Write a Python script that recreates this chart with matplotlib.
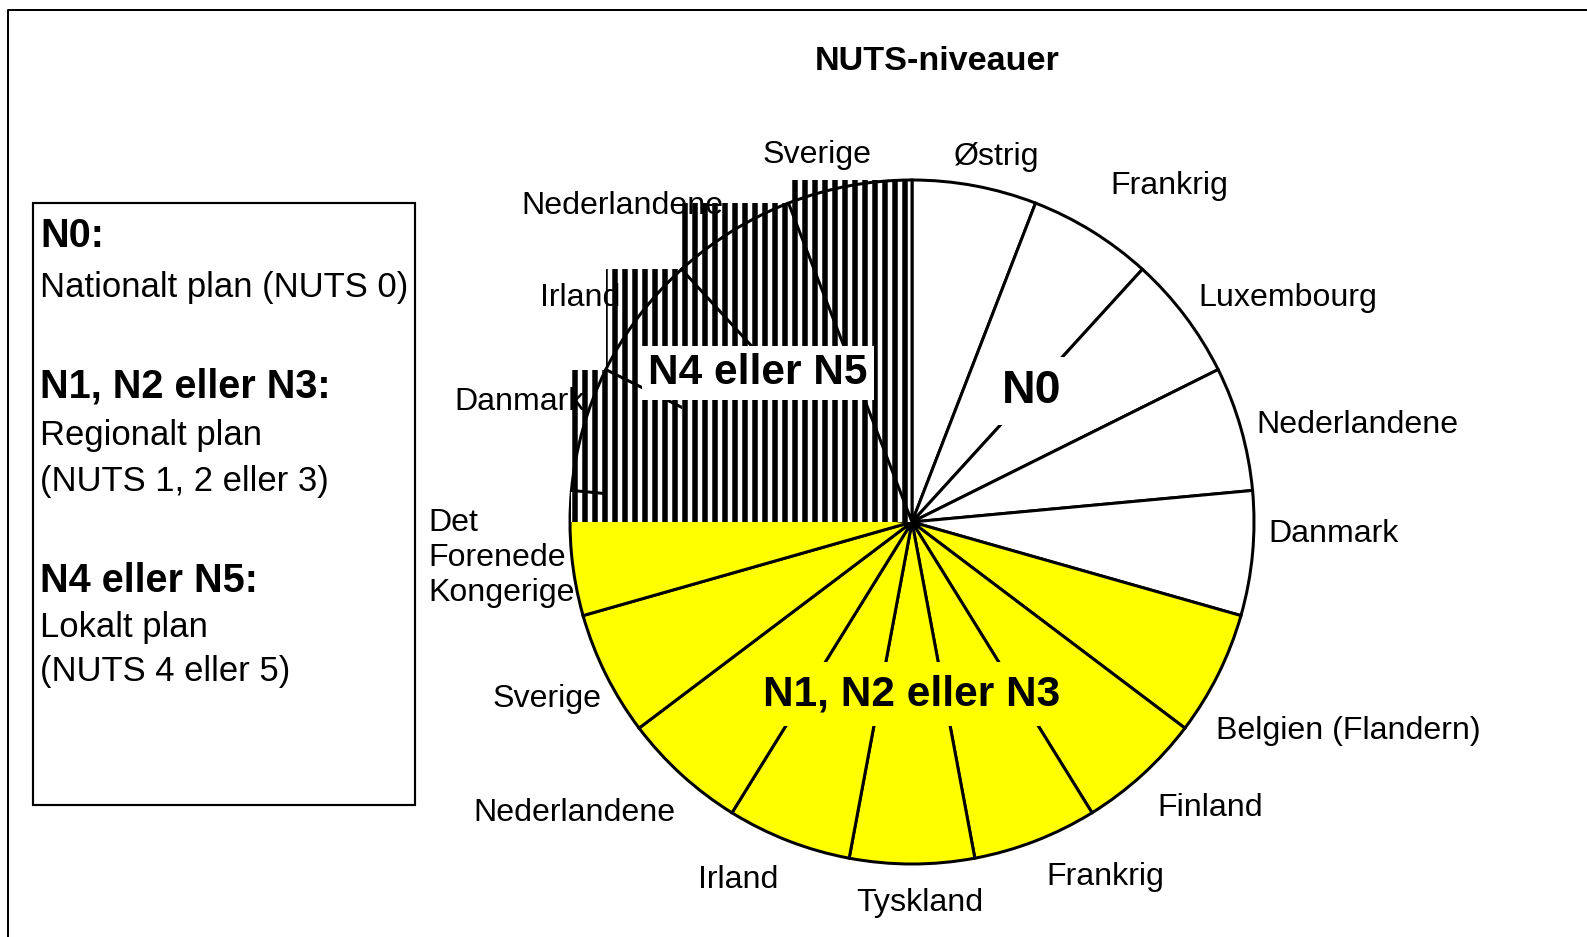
import numpy as np
import matplotlib.pyplot as plt
from matplotlib.patches import Rectangle

plt.rcParams['font.family'] = ['Liberation Sans', 'DejaVu Sans']
plt.rcParams['hatch.linewidth'] = 3.3

# slices, clockwise from 12 o'clock
countries = ["Østrig", "Frankrig", "Luxembourg", "Nederlandene", "Danmark",
             "Belgien (Flandern)", "Finland", "Frankrig", "Tyskland", "Irland",
             "Nederlandene", "Sverige", "Det\nForenede\nKongerige",
             "Danmark", "Irland", "Nederlandene", "Sverige"]
levels = ["N0"] * 5 + ["N1-3"] * 8 + ["N4-5"] * 4
shares = [1] * 17

level_colors = {"N0": "white", "N1-3": "#FFFF00", "N4-5": "white"}

# label placement (pixels from top-left) and alignment
label_xy = [(997, 157), (1110, 186), (1198, 298), (1256, 425), (1268, 534),
            (1216, 731), (1157, 808), (1105, 877), (920, 903), (738, 880),
            (675, 813), (602, 699), (428, 558),
            (585, 402), (620, 298), (723, 206), (817, 155)]
label_ha = ["center", "left", "left", "left", "left",
            "left", "left", "center", "center", "center",
            "right", "right", "left",
            "right", "right", "right", "center"]

W, H = 1587, 937
DPI = 120
fig = plt.figure(figsize=(W / DPI, H / DPI), dpi=DPI)
ax = fig.add_axes([0, 0, 1, 1])


def fy(y):
    return H - y


cx, cy, R = 912, fy(522), 342

wedges, _ = ax.pie(shares, colors=[level_colors[l] for l in levels],
                   startangle=90, counterclock=False, center=(cx, cy), radius=R,
                   wedgeprops=dict(edgecolor="black", linewidth=1.8), frame=True)
ax.set_xlim(0, W)
ax.set_ylim(0, H)
ax.set_aspect("auto")
ax.axis("off")

# striped slices are filled over their bounding box (as in the original export)
z = 2
for w, lev in zip(wedges, levels):
    if lev != "N4-5":
        continue
    ext = w.get_path().get_extents()
    ax.add_patch(Rectangle((ext.x0, ext.y0), ext.width, ext.height,
                           facecolor="white", edgecolor="black", hatch="||",
                           linewidth=0, zorder=z))
    w.set_facecolor("none")
    w.set_zorder(z + 1)
    z += 2

for name, (x, y), ha in zip(countries, label_xy, label_ha):
    ax.text(x, fy(y), name, ha=ha, va="center", fontsize=19.3, linespacing=1.2,
            zorder=20)

ax.text(1032, fy(391), "N0", ha="center", va="center", fontsize=28,
        fontweight="bold", zorder=30,
        bbox=dict(facecolor="white", edgecolor="none", pad=7))
ax.text(912, fy(694), "N1, N2 eller N3", ha="center", va="center", fontsize=25.4,
        fontweight="bold", zorder=30,
        bbox=dict(facecolor="#FFFF00", edgecolor="none", pad=7))
ax.text(758, fy(373), "N4 eller N5", ha="center", va="center", fontsize=25.4,
        fontweight="bold", zorder=30,
        bbox=dict(facecolor="white", edgecolor="none", pad=4))

ax.text(937, fy(62), "NUTS-niveauer", ha="center", va="center", fontsize=20.5,
        fontweight="bold")

# legend box
ax.add_patch(Rectangle((33, fy(805)), 382, 602, facecolor="none",
                       edgecolor="black", linewidth=1.3))
legend_lines = [("N0:", True, 236), ("Nationalt plan (NUTS 0)", False, 287),
                ("N1, N2 eller N3:", True, 387), ("Regionalt plan", False, 435),
                ("(NUTS 1, 2 eller 3)", False, 482),
                ("N4 eller N5:", True, 581), ("Lokalt plan", False, 628),
                ("(NUTS 4 eller 5)", False, 672)]
for txt, bold, y in legend_lines:
    ax.text(40, fy(y), txt, ha="left", va="center",
            fontsize=23.8 if bold else 20.8,
            fontweight="bold" if bold else "normal")

# outer frame (left and top edges)
ax.plot([8, 8, W], [0, fy(10), fy(10)], color="black", linewidth=1.2,
        clip_on=False)

fig.savefig("out.png", dpi=DPI)
